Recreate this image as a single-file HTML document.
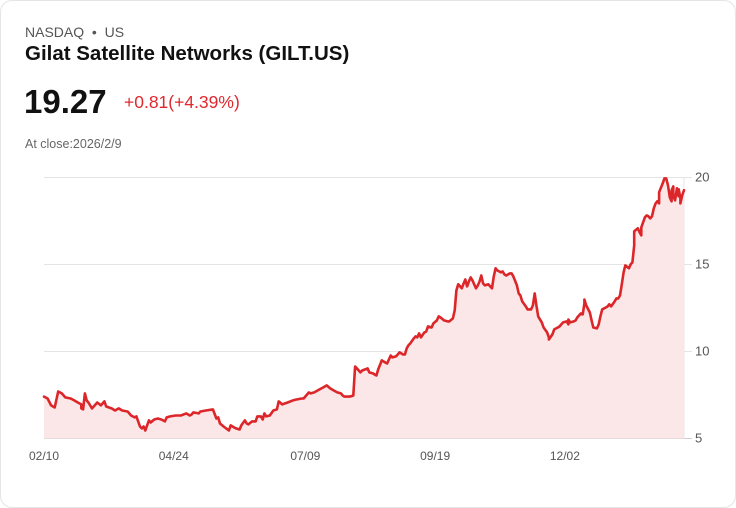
<!DOCTYPE html>
<html><head><meta charset="utf-8"><style>
body{margin:0;background:#fff;font-family:"Liberation Sans",Arial,sans-serif;}
.card{position:absolute;left:0;top:0;width:734px;height:506px;border:1px solid #e3e5e8;border-radius:12px;background:#fff;}
.t{position:absolute;white-space:nowrap;}
</style></head><body>
<div class="card">
<div class="t" style="left:24px;top:23px;font-size:14px;color:#555;">NASDAQ &nbsp;•&nbsp; US</div>
<div class="t" style="left:24px;top:41px;font-size:20.5px;font-weight:bold;color:#111;">Gilat Satellite Networks (GILT.US)</div>
<div class="t" style="left:23px;top:82px;font-size:33px;font-weight:bold;color:#111;">19.27</div>
<div class="t" style="left:123px;top:91px;font-size:17.5px;color:#e0282e;">+0.81(+4.39%)</div>
<div class="t" style="left:24px;top:136px;font-size:12.5px;color:#666;">At close:2026/2/9</div>
<svg id="chart" width="736" height="508" style="position:absolute;left:-1px;top:-1px"></svg>
</div>
<script>
const yTicks=[20,15,10,5];
const xTickLabels=["02/10","04/24","07/09","09/19","12/02"];
const xTickDays=[0,73,147,220,293];
const days=[0,2,4,6,8,10,12,15,17,19,21,21,22,23,24,25,27,29,30,32,34,35,38,40,42,44,47,49,51,52,54,55,56,57,59,60,62,64,66,68,69,71,74,77,80,82,83,84,87,88,91,95,97,98,99,101,104,105,107,108,110,111,113,114,115,117,119,120,122,123,124,125,127,129,131,132,134,137,140,142,145,146,149,150,152,155,157,159,161,163,165,167,168,169,170,172,174,175,176,178,179,182,183,185,186,187,
188,190,192,193,195,196,198,200,202,203,204,205,206,208,209,210,211,212,214,215,216,218,219,221,222,223,225,227,228,230,231,232,233,235,236,237,238,239,240,241,242,243,244,245,246,247,248,250,251,252,253,254,255,257,258,259,260,262,263,264,266,267,268,269,271,272,274,275,276,277,278,280,281,283,284,284,286,287,289,290,291,292,294,295,295,296,298,299,300,302,303,304,304,305,307,308,309,311,312,313,314,316,317,318,319,321,322,323,324,325,326,327,329,330,
331,332,332,334,335,336,336,338,339,340,341,342,343,344,345,346,346,348,349,350,351,352,353,353,354,354,355,356,356,357,357,358,358,359,360];
const prices=[7.41,7.30,6.90,6.78,7.70,7.59,7.36,7.30,7.19,7.07,6.96,6.73,6.67,7.59,7.19,7.07,6.73,6.96,7.07,6.90,7.13,6.84,6.73,6.61,6.73,6.61,6.55,6.32,6.21,6.27,5.69,5.58,5.69,5.46,6.04,5.92,6.09,6.15,6.09,5.98,6.21,6.27,6.32,6.32,6.44,6.32,6.38,6.50,6.44,6.55,6.61,6.67,6.15,6.21,5.86,5.69,5.46,5.75,5.63,5.58,5.52,5.75,6.04,5.86,5.81,5.98,5.98,6.27,6.27,6.09,6.44,6.27,6.32,6.61,6.67,7.13,6.96,7.07,7.19,7.24,7.30,7.30,7.65,7.59,7.65,7.82,7.93,8.05,7.88,7.76,7.65,7.59,7.47,7.41,7.41,7.41,7.47,9.14,9.03,8.80,8.91,9.03,8.80,8.74,8.68,8.62,
8.97,9.49,9.37,9.31,9.77,9.66,9.72,9.95,9.83,9.83,10.18,10.35,10.46,10.75,10.87,10.81,11.04,10.81,11.10,11.15,11.44,11.38,11.61,11.79,12.02,11.96,11.79,11.73,11.73,11.90,12.36,13.51,13.86,13.63,13.91,14.14,13.74,14.03,14.26,14.09,13.86,13.63,13.80,14.03,14.37,13.91,13.80,13.86,13.74,13.63,14.32,14.78,14.66,14.55,14.60,14.43,14.37,14.49,14.49,14.32,13.80,13.34,13.22,12.88,12.59,12.42,12.42,12.65,13.34,12.65,12.02,11.67,11.38,11.10,10.81,10.69,10.98,11.27,11.38,11.44,11.56,11.67,11.73,11.56,11.84,11.67,11.73,11.79,11.96,12.19,12.13,12.76,12.99,12.65,12.25,11.79,11.38,11.33,11.56,12.02,12.42,12.53,12.59,12.71,12.59,12.88,13.05,13.05,13.22,13.86,14.55,14.95,14.78,15.01,
15.12,16.10,16.90,17.08,16.85,16.67,17.13,17.71,17.82,17.77,17.65,17.77,18.23,18.51,18.63,18.51,19.15,19.66,19.95,19.95,19.55,18.86,18.63,19.26,19.49,18.92,18.69,19.38,19.15,18.92,19.32,18.80,18.51,18.97,19.27];
const svg=document.getElementById('chart');
const NS='http://www.w3.org/2000/svg';
const X0=44,X1=684,Dmax=360;
const xs=d=>X0+(X1-X0)*d/Dmax;
const ys=v=>438.5-(v-5)*17.4;
function mk(tag,attrs){const e=document.createElementNS(NS,tag);for(const k in attrs)e.setAttribute(k,attrs[k]);svg.appendChild(e);return e;}
yTicks.forEach(v=>{
  const l=mk('line',{x1:X0,x2:692,y1:ys(v),y2:ys(v),stroke:v===5?'#cfcfcf':'#e4e4e4','stroke-width':1});
  
  
  const t=mk('text',{x:695,y:ys(v)+4,'font-size':13,fill:'#555','font-family':'Liberation Sans, sans-serif'});
  t.textContent=v;
  
  
});
const vl=mk('line',{x1:X1,x2:X1,y1:ys(20),y2:ys(5),stroke:'#e4e4e4','stroke-width':1});


xTickLabels.forEach((s,i)=>{
  const t=mk('text',{x:xs(xTickDays[i]),y:460,'font-size':12,fill:'#555','text-anchor':'middle','font-family':'Liberation Sans, sans-serif'});
  t.textContent=s;
  
  
});
let d='';
for(let i=0;i<prices.length;i++){d+=(i?'L':'M')+xs(days[i]).toFixed(1)+','+ys(prices[i]).toFixed(1);}
const area=mk('path',{d:d+'L'+xs(days[days.length-1])+','+ys(5)+'L'+xs(0)+','+ys(5)+'Z',fill:'#fbe7e7'});


const line=mk('path',{d:d,fill:'none',stroke:'#dc2629','stroke-width':2.6,'stroke-linejoin':'round','stroke-linecap':'round'});


</script>
</body></html>
